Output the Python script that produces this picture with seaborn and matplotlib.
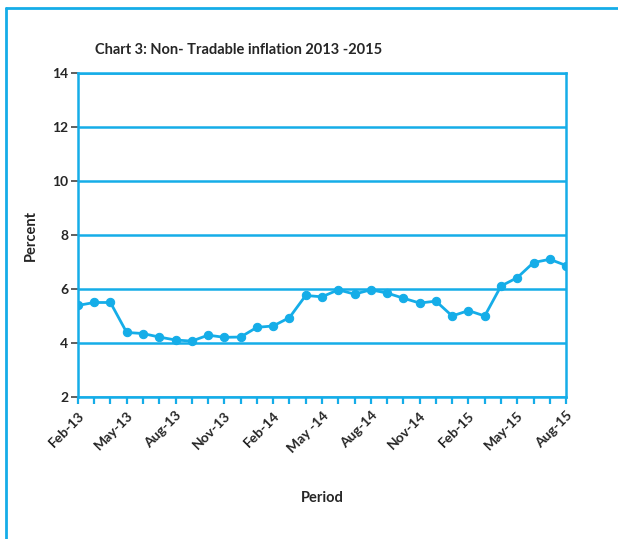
import pandas as pd
import matplotlib.pyplot as plt
import seaborn as sns
from matplotlib.lines import Line2D

# ---------------- DATA ----------------
periods = ["Feb-13", "Mar-13", "Apr-13", "May-13", "Jun-13", "Jul-13", "Aug-13",
           "Sep-13", "Oct-13", "Nov-13", "Dec-13", "Jan-14", "Feb-14", "Mar-14",
           "Apr-14", "May-14", "Jun-14", "Jul-14", "Aug-14", "Sep-14", "Oct-14",
           "Nov-14", "Dec-14", "Jan-15", "Feb-15", "Mar-15", "Apr-15", "May-15",
           "Jun-15", "Jul-15", "Aug-15"]
inflation = [5.39, 5.50, 5.50, 4.39, 4.35, 4.22, 4.11, 4.07, 4.29, 4.21, 4.22,
             4.58, 4.63, 4.94, 5.76, 5.71, 5.97, 5.81, 5.97, 5.85, 5.66, 5.48,
             5.55, 5.00, 5.20, 5.00, 6.11, 6.42, 6.98, 7.10, 6.87]
tick_periods = ["Feb-13", "May-13", "Aug-13", "Nov-13", "Feb-14", "May-14",
                "Aug-14", "Nov-14", "Feb-15", "May-15", "Aug-15"]
tick_labels = ["Feb-13", "May-13", "Aug-13", "Nov-13", "Feb-14", "May -14",
               "Aug-14", "Nov-14", "Feb-15", "May-15", "Aug-15"]
y_ticks = [2, 4, 6, 8, 10, 12, 14]

df = pd.DataFrame({"period": periods, "inflation": inflation})
df["pos"] = range(len(df))

# ---------------- STYLE ----------------
sns.set_style("white")
plt.rcParams["font.family"] = ["Lato", "DejaVu Sans"]
blue = "#15ADE8"

fig = plt.figure(figsize=(6.18, 5.39), dpi=100)
ax = fig.add_axes([0.126, 0.2635, 0.79, 0.601])

sns.lineplot(data=df, x="pos", y="inflation", ax=ax, color=blue,
             linewidth=2, marker="o", markersize=6, markeredgecolor=blue)

ax.set_xlim(0, len(periods) - 1)
ax.set_ylim(2, 14)
ax.set_yticks(y_ticks)
ax.set_yticklabels([str(v) for v in y_ticks], fontsize=10, fontweight="bold")
ax.grid(axis="y", color=blue, linewidth=1.8)
ax.set_axisbelow(True)

ax.set_xticks(df["pos"], minor=True)
ax.set_xticks([periods.index(p) for p in tick_periods])
ax.set_xticklabels(tick_labels, rotation=45, ha="right", rotation_mode="anchor",
                   fontsize=10, fontweight="bold")
ax.tick_params(axis="x", which="both", direction="out", length=5, width=1.6,
               color=blue, bottom=True, pad=4)
ax.tick_params(axis="y", direction="out", length=5, width=1.2, color="#444444",
               left=True, pad=2)

for side in ["left", "right", "bottom", "top"]:
    ax.spines[side].set_color(blue)
    ax.spines[side].set_linewidth(1.8)

ax.set_xlabel("Period", fontsize=10.5, fontweight="bold", labelpad=26)
ax.set_ylabel("Percent", fontsize=10.5, fontweight="bold", labelpad=10)
fig.text(0.386, 0.907, "Chart 3: Non- Tradable inflation 2013 -2015",
         ha="center", va="center", fontsize=10.5, fontweight="bold")

# outer frame (left and top edges)
fig.add_artist(Line2D([0.009, 0.009], [0.0, 0.985], color=blue, linewidth=2))
fig.add_artist(Line2D([0.009, 1.0], [0.985, 0.985], color=blue, linewidth=2))

fig.savefig("out.png", dpi=100)
